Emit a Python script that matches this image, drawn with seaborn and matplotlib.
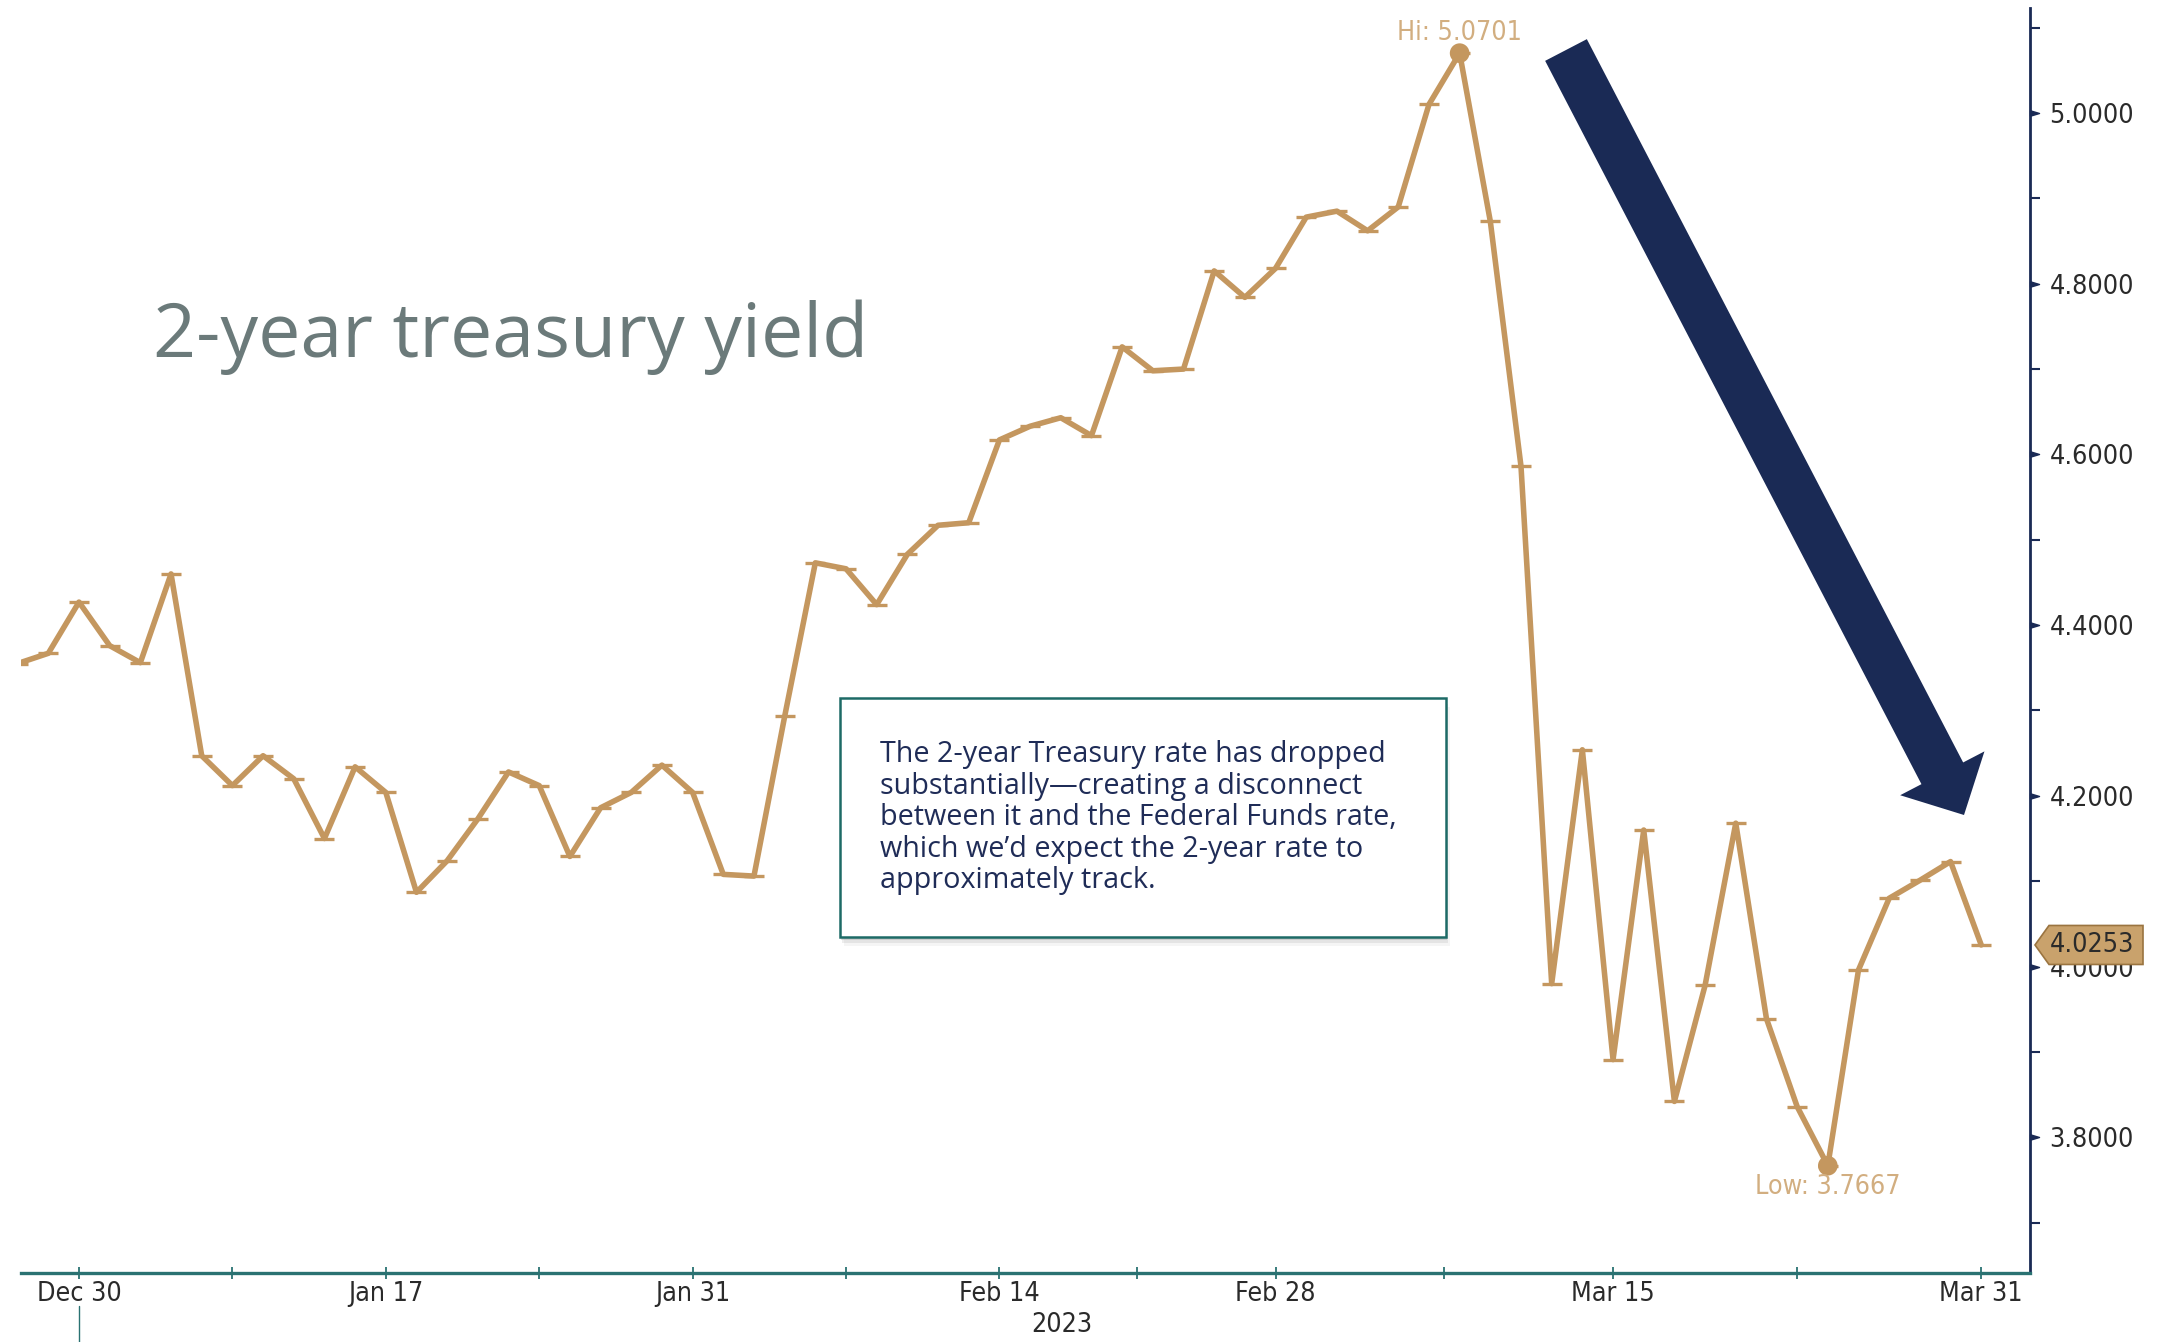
import numpy as np
import pandas as pd
import matplotlib
matplotlib.use("Agg")
import matplotlib.pyplot as plt
import seaborn as sns
from matplotlib.patches import Polygon, Rectangle
from matplotlib.path import Path
from matplotlib import transforms

# ---------------- data ----------------
dates = ["2022-12-28", "2022-12-29", "2022-12-30",
         "2023-01-03", "2023-01-04", "2023-01-05", "2023-01-06", "2023-01-09", "2023-01-10",
         "2023-01-11", "2023-01-12", "2023-01-13", "2023-01-17", "2023-01-18", "2023-01-19",
         "2023-01-20", "2023-01-23", "2023-01-24", "2023-01-25", "2023-01-26", "2023-01-27",
         "2023-01-30", "2023-01-31",
         "2023-02-01", "2023-02-02", "2023-02-03", "2023-02-06", "2023-02-07", "2023-02-08",
         "2023-02-09", "2023-02-10", "2023-02-13", "2023-02-14", "2023-02-15", "2023-02-16",
         "2023-02-17", "2023-02-21", "2023-02-22", "2023-02-23", "2023-02-24", "2023-02-27",
         "2023-02-28",
         "2023-03-01", "2023-03-02", "2023-03-03", "2023-03-06", "2023-03-07", "2023-03-08",
         "2023-03-09", "2023-03-10", "2023-03-13", "2023-03-14", "2023-03-15", "2023-03-16",
         "2023-03-17", "2023-03-20", "2023-03-21", "2023-03-22", "2023-03-23", "2023-03-24",
         "2023-03-27", "2023-03-28", "2023-03-29", "2023-03-30", "2023-03-31"]

yields = [4.355, 4.367, 4.427,
          4.376, 4.356, 4.460, 4.247, 4.212, 4.247, 4.220, 4.150, 4.234, 4.204, 4.087,
          4.124, 4.173, 4.228, 4.212, 4.129, 4.186, 4.204, 4.236, 4.204,
          4.108, 4.106, 4.293, 4.473, 4.466, 4.424, 4.483, 4.517, 4.520, 4.617, 4.633,
          4.643, 4.622, 4.726, 4.698, 4.700, 4.815, 4.784, 4.818,
          4.878, 4.885, 4.862, 4.890, 5.010, 5.0701, 4.873, 4.586, 3.980, 4.254, 3.891,
          4.160, 3.842, 3.978, 4.168, 3.939, 3.836, 3.7667, 3.996, 4.080, 4.101, 4.123,
          4.0253]

tick_dates = ["2022-12-30", "2023-01-17", "2023-01-31", "2023-02-14",
              "2023-02-28", "2023-03-15", "2023-03-31"]
tick_labels = ["Dec 30", "Jan 17", "Jan 31", "Feb 14", "Feb 28", "Mar 15", "Mar 31"]
y_major = [3.8, 4.0, 4.2, 4.4, 4.6, 4.8, 5.0]
y_minor = [3.7, 3.9, 4.1, 4.3, 4.5, 4.7, 4.9, 5.1]
year_label = "2023"
title = "2-year treasury yield"
note_lines = ["The 2-year Treasury rate has dropped",
              "substantially\u2014creating a disconnect",
              "between it and the Federal Funds rate,",
              "which we\u2019d expect the 2-year rate to",
              "approximately track."]

# ---------------- style ----------------
GOLD = "#c4975f"
GOLD_LIGHT = "#d2ae80"
NAVY = "#1a2a55"
TEAL = "#2a7272"
TITLE_GRAY = "#6b7a7a"
NOTE_NAVY = "#1f2c57"
BOX_TEAL = "#1d6a66"
TAG_FILL = "#c9a26c"
TAG_EDGE = "#9a7440"
LABEL_DARK = "#2a2a2a"

sns.set_theme(style="white")
plt.rcParams["font.family"] = ["DejaVu Sans"]

W, H = 2164, 1342
fig = plt.figure(figsize=(W / 100, H / 100), dpi=100)
fig.patch.set_facecolor("white")

ax_l, ax_r, ax_t, ax_b = 21, 2030, 8, 1273
ax = fig.add_axes([ax_l / W, 1 - ax_b / H, (ax_r - ax_l) / W, (ax_b - ax_t) / H])
ax.set_facecolor("white")

df = pd.DataFrame({"date": dates, "yield": yields})
df["pos"] = np.arange(len(df))
pos_of = {d: i for i, d in enumerate(dates)}

sns.lineplot(data=df, x="pos", y="yield", ax=ax, color=GOLD, linewidth=4.0,
             marker="_", markersize=14, markeredgewidth=2.4, markeredgecolor=GOLD,
             zorder=3, legend=False)

ax.set_xlim(0.11, 65.59)
ax.set_ylim(3.641, 5.123)

hi_i = int(np.argmax(yields))
lo_i = int(np.argmin(yields))
sns.scatterplot(x=[hi_i, lo_i], y=[yields[hi_i], yields[lo_i]], ax=ax, color=GOLD,
                s=200, edgecolor="none", zorder=4, legend=False)

renderer = fig.canvas.get_renderer()


def fit_size(s, target, base=20, **kw):
    t = fig.text(0, 0, s, fontsize=base, **kw)
    w = t.get_window_extent(renderer=renderer).width
    t.remove()
    return base * target / w


BB = dict(family=["DejaVu Sans"], fontstretch="condensed")
bb_fs = fit_size("5.0000", 84, **BB)

ax.annotate(f"Hi: {yields[hi_i]:.4f}", (hi_i, yields[hi_i]), xytext=(0, 14.5),
            textcoords="offset points", ha="center", va="center", color=GOLD_LIGHT,
            fontsize=bb_fs, zorder=5, **BB)
ax.annotate(f"Low: {yields[lo_i]:.4f}", (lo_i, yields[lo_i]), xytext=(0, -15.5),
            textcoords="offset points", ha="center", va="center", color=GOLD_LIGHT,
            fontsize=bb_fs, zorder=5, **BB)

# axes / spines
for s in ["left", "top"]:
    ax.spines[s].set_visible(False)
ax.spines["right"].set_color(NAVY)
ax.spines["right"].set_linewidth(2.0)
ax.spines["bottom"].set_color(TEAL)
ax.spines["bottom"].set_linewidth(2.4)

major = [pos_of[d] for d in tick_dates]
minor = [(a + b) / 2 for a, b in zip(major[:-1], major[1:])]
ax.set_xticks(major)
ax.set_xticklabels(tick_labels, fontsize=bb_fs, color=LABEL_DARK, **BB)
ax.set_xticks(minor, minor=True)
ax.tick_params(axis="x", which="both", direction="inout", length=9, width=1.3,
               color=TEAL, pad=1, bottom=True)
ax.set_xlabel("")
ax.set_ylabel("")

ax.yaxis.tick_right()
ax.set_yticks(y_major)
ax.set_yticklabels([f"{v:.4f}" for v in y_major], fontsize=bb_fs, color=LABEL_DARK, **BB)
ax.set_yticks(y_minor, minor=True)
ax.tick_params(axis="y", which="major", length=0, pad=14, right=True, left=False)
ax.tick_params(axis="y", which="minor", direction="out", length=7, width=1.5,
               color=NAVY, right=True, left=False)
ax.grid(False)

tri = Path([(0, -0.3), (1, 0), (0, 0.3), (0, -0.3)],
           [Path.MOVETO, Path.LINETO, Path.LINETO, Path.CLOSEPOLY])
blend_y = transforms.blended_transform_factory(ax.transAxes, ax.transData)
ax.plot([1.0] * len(y_major), y_major, transform=blend_y, marker=tri, ms=13,
        color=NAVY, mfc=NAVY, mec=NAVY, ls="none", clip_on=False, zorder=6)

# year separator + year label
blend_xf = transforms.blended_transform_factory(ax.transData, fig.transFigure)
ax.plot([major[0], major[0]], [1 - 1306 / H, 0], transform=blend_xf, color=TEAL,
        lw=1.0, clip_on=False)
ax.text((major[0] + 0.5 + ax.get_xlim()[1]) / 2, 1 - 1325 / H, year_label,
        transform=blend_xf, ha="center", va="center", fontsize=bb_fs,
        color=LABEL_DARK, **BB)

# ---------------- title ----------------
TF = dict(family=["Open Sans", "DejaVu Sans"])
NF = dict(family=["Open Sans", "DejaVu Sans"])
t_fs = fit_size(title, 716, base=50, **TF)
fig.text(153 / W, 1 - 357 / H, title, fontsize=t_fs, color=TITLE_GRAY,
         ha="left", va="baseline", **TF)

# ---------------- note box ----------------
ident = transforms.IdentityTransform()
bx0, by0, bx1, by1 = 840, 698, 1446, 937
for k, a in [(9, 0.06), (6, 0.10), (3, 0.16)]:
    fig.add_artist(Rectangle((bx0 + k * 0.4, H - by1 - k), bx1 - bx0, by1 - by0,
                             transform=ident, facecolor="#555555", alpha=a,
                             edgecolor="none", zorder=7))
fig.add_artist(Rectangle((bx0, H - by1), bx1 - bx0, by1 - by0, transform=ident,
                         facecolor="white", edgecolor=BOX_TEAL, linewidth=1.8, zorder=8))
n_fs = fit_size(note_lines[0], 505, **NF)
for i, line in enumerate(note_lines):
    fig.text(880, H - (762 + i * 31.6), line, transform=ident, fontsize=n_fs,
             color=NOTE_NAVY, ha="left", va="baseline", zorder=9, **NF)

# ---------------- big arrow ----------------
tail = np.array([1566.0, H - 50.0])
tip = np.array([1964.0, H - 815.0])
u = (tip - tail) / np.linalg.norm(tip - tail)
nrm = np.array([-u[1], u[0]])
sw, hw, hl = 47.0, 95.0, 47.0
base = tip - u * hl
verts = [tail + nrm * sw / 2, base + nrm * sw / 2, base + nrm * hw / 2, tip,
         base - nrm * hw / 2, base - nrm * sw / 2, tail - nrm * sw / 2]
fig.add_artist(Polygon(verts, closed=True, transform=ident, facecolor=NAVY,
                       edgecolor="none", zorder=10))

# ---------------- last value tag ----------------
last = yields[-1]
x0, y0 = ax.transData.transform((ax.get_xlim()[1], last))
th = 19.5
tag = [(x0 + 5, y0), (x0 + 19, y0 + th), (x0 + 113, y0 + th), (x0 + 113, y0 - th),
       (x0 + 19, y0 - th)]
fig.add_artist(Polygon(tag, closed=True, transform=ident, facecolor=TAG_FILL,
                       edgecolor=TAG_EDGE, linewidth=1.2, zorder=11))
fig.text(x0 + 62, y0, f"{last:.4f}", transform=ident, ha="center", va="center",
         fontsize=bb_fs, color=LABEL_DARK, zorder=12, **BB)

fig.savefig("out.png", dpi=100, facecolor="white")
